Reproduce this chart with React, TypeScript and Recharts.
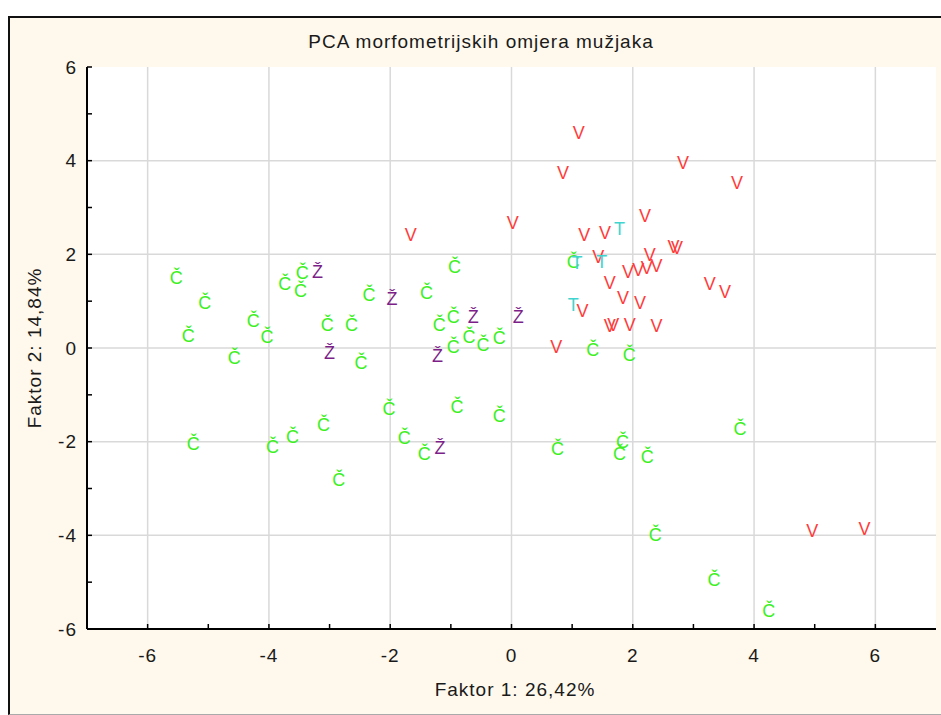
import React from 'react';
import { ScatterChart, Scatter, XAxis, YAxis, CartesianGrid } from 'recharts';

// boje oznaka
const COL = {
  c: '#3cf01e',
  v: '#ff3b3b',
  z: '#7d1f88',
  t: '#3fd4cf',
  bg: '#fff8ec',
  grid: '#d9d9d9',
  text: '#1a1a1a'
};
const FONT = '"Liberation Sans", Arial, sans-serif';

// Č
const cX = [-5.53, -5.06, -5.33, -4.57, -5.25, -4.26, -4.03, -3.74, -3.45, -3.48, -3.94, -3.61, -3.10, -2.85,
  -3.04, -2.64, -2.48, -2.35, -2.02, -1.77, -1.44, -1.40, -1.19, -0.96, -0.94, -0.96, -0.70, -0.47, -0.20,
  -0.90, -0.20, 0.76, 1.02, 1.34, 1.94, 1.83, 1.78, 2.24, 3.77, 2.37, 3.34, 4.24];
const cY = [1.49, 0.97, 0.26, -0.22, -2.06, 0.58, 0.24, 1.36, 1.60, 1.22, -2.11, -1.90, -1.65, -2.81,
  0.49, 0.49, -0.31, 1.13, -1.30, -1.93, -2.26, 1.17, 0.49, 0.67, 1.74, 0.03, 0.23, 0.06, 0.21,
  -1.25, -1.45, -2.15, 1.84, -0.04, -0.15, -2.01, -2.26, -2.33, -1.72, -3.99, -4.96, -5.61];

// Ž
const zX = [-3.20, -1.97, -3.00, -1.22, -0.63, 0.11, -1.18];
const zY = [1.63, 1.04, -0.10, -0.17, 0.66, 0.67, -2.14];

// T
const tX = [1.78, 1.08, 1.49, 1.02];
const tY = [2.54, 1.82, 1.84, 0.92];

// V
const vX = [1.11, 0.85, 2.83, 3.72, -1.66, 0.02, 2.20, 1.20, 1.54, 2.67, 2.73, 2.28, 1.43, 1.92, 2.09,
  2.23, 2.39, 1.62, 3.27, 3.52, 1.84, 2.12, 1.17, 1.62, 1.68, 1.95, 2.39, 0.74, 4.96, 5.82];
const vY = [4.60, 3.73, 3.96, 3.52, 2.41, 2.66, 2.81, 2.41, 2.45, 2.16, 2.14, 1.99, 1.95, 1.62, 1.67,
  1.70, 1.76, 1.38, 1.37, 1.20, 1.06, 0.96, 0.78, 0.46, 0.49, 0.49, 0.46, 0.03, -3.90, -3.87];

const xTicks = [-6, -5, -4, -3, -2, -1, 0, 1, 2, 3, 4, 5, 6];
const yTicks = [-6, -5, -4, -3, -2, -1, 0, 1, 2, 3, 4, 5, 6];
const topTicks = [-6.3, -5.6, -4.9, -4.2, -3.5, -2.8, -2.1, -1.4, -0.7, 0, 0.7, 1.4, 2.1, 2.8, 3.5, 4.2, 4.9, 5.6, 6.3];
const rightTicks = [-6, -5.333, -4.667, -4, -3.333, -2.667, -2, -1.333, -0.667, 0, 0.667, 1.333, 2, 2.667, 3.333, 4, 4.667, 5.333, 6];
const gridX = [-6, -4, -2, 0, 2, 4, 6];
const gridY = [-4, -2, 0, 2, 4];

const zip = (xs: number[], ys: number[]) => xs.map((x, i) => ({ x, y: ys[i] }));

const labelStyle = { fontFamily: FONT, fontSize: 19, letterSpacing: 1, fill: COL.text };

const BottomTick = (p: any) => {
  const v = p.payload.value;
  return (
    <g>
      <line x1={p.x} y1={p.y} x2={p.x} y2={p.y - 5} stroke="#000" strokeWidth={1.5} />
      {v % 2 === 0 && (
        <text x={p.x} y={p.y + 26} textAnchor="middle" dominantBaseline="central" style={labelStyle}>{v}</text>
      )}
    </g>
  );
};

const LeftTick = (p: any) => {
  const v = p.payload.value;
  return (
    <g>
      <line x1={p.x} y1={p.y} x2={p.x + 5} y2={p.y} stroke="#000" strokeWidth={1.5} />
      {v % 2 === 0 && (
        <text x={p.x - 10} y={p.y} textAnchor="end" dominantBaseline="central" style={labelStyle}>{v}</text>
      )}
    </g>
  );
};

const TopTick = (p: any) => {
  const k = Math.round(p.payload.value / 0.7);
  const len = k % 2 === 0 ? 5 : 3;
  return <line x1={p.x} y1={p.y} x2={p.x} y2={p.y + len} stroke="#000" strokeWidth={1.5} />;
};

const RightTick = (p: any) => {
  const k = Math.round(p.payload.value * 1.5);
  const len = k % 2 === 0 ? 5 : 3;
  return <line x1={p.x} y1={p.y} x2={p.x - len} y2={p.y} stroke="#000" strokeWidth={1.5} />;
};

const marker = (ch: string, color: string) => (p: any) => (
  <text x={p.cx} y={p.cy} textAnchor="middle" dominantBaseline="central"
    style={{ fontFamily: FONT, fontSize: 18, fill: color }}>{ch}</text>
);

export default function App() {
  const axisLine = { stroke: '#000', strokeWidth: 2 };
  return (
    <div style={{
      position: 'fixed', left: 8, top: 16, width: 933, height: 699, boxSizing: 'border-box',
      background: COL.bg, borderTop: '2px solid #111', borderLeft: '2px solid #111', borderBottom: '1px solid #aaa'
    }}>
      <div style={{ position: 'absolute', left: 471, top: 24, transform: 'translate(-50%, -50%)', whiteSpace: 'nowrap',
        fontFamily: FONT, fontSize: 19, letterSpacing: 1, color: COL.text }}>
        PCA morfometrijskih omjera mužjaka
      </div>
      <ScatterChart width={931} height={696} margin={{ top: 49, right: 5, bottom: 55, left: 0 }}>
        <CartesianGrid xAxisId="b" yAxisId="l" fill="#fff" stroke={COL.grid} strokeWidth={1.5}
          verticalValues={gridX} horizontalValues={gridY} />
        <XAxis xAxisId="b" type="number" dataKey="x" domain={[-7, 7]} ticks={xTicks} interval={0}
          height={30} tickSize={0} tickMargin={0} axisLine={axisLine} tick={<BottomTick />} />
        <XAxis xAxisId="t" orientation="top" type="number" dataKey="x" domain={[-7, 7]} ticks={topTicks} interval={0}
          height={0} tickSize={0} tickMargin={0} axisLine={axisLine} tick={<TopTick />} />
        <YAxis yAxisId="l" type="number" dataKey="y" domain={[-6, 6]} ticks={yTicks} interval={0}
          width={77} tickSize={0} tickMargin={0} axisLine={axisLine} tick={<LeftTick />} />
        <YAxis yAxisId="r" orientation="right" type="number" dataKey="y" domain={[-6, 6]} ticks={rightTicks} interval={0}
          width={0} tickSize={0} tickMargin={0} axisLine={axisLine} tick={<RightTick />} />
        <Scatter xAxisId="b" yAxisId="l" data={zip(cX, cY)} shape={marker('Č', COL.c)} isAnimationActive={false} />
        <Scatter xAxisId="b" yAxisId="l" data={zip(zX, zY)} shape={marker('Ž', COL.z)} isAnimationActive={false} />
        <Scatter xAxisId="b" yAxisId="l" data={zip(vX, vY)} shape={marker('V', COL.v)} isAnimationActive={false} />
        <Scatter xAxisId="b" yAxisId="l" data={zip(tX, tY)} shape={marker('T', COL.t)} isAnimationActive={false} />
      </ScatterChart>
      <div style={{ position: 'absolute', left: 505, top: 672, transform: 'translate(-50%, -50%)', whiteSpace: 'nowrap',
        fontFamily: FONT, fontSize: 19, letterSpacing: 1, color: COL.text }}>
        Faktor 1: 26,42%
      </div>
      <div style={{ position: 'absolute', left: 25, top: 330, transform: 'translate(-50%, -50%) rotate(-90deg)', whiteSpace: 'nowrap',
        fontFamily: FONT, fontSize: 19, letterSpacing: 1, color: COL.text }}>
        Faktor 2: 14,84%
      </div>
    </div>
  );
}
